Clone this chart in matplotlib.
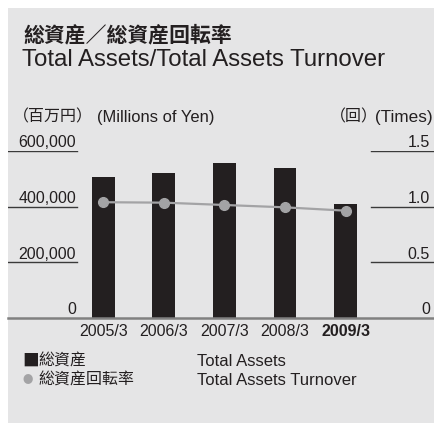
import matplotlib
matplotlib.use("Agg")
import matplotlib.pyplot as plt
from matplotlib.patches import Rectangle
from matplotlib.transforms import blended_transform_factory

JP = 'Noto Sans CJK SC'
plt.rcParams['font.family'] = ['Liberation Sans', JP, 'DejaVu Sans']

# data (millions of yen / times)
years = ['2005/3', '2006/3', '2007/3', '2008/3', '2009/3']
total_assets = [505000, 520000, 556000, 538000, 408000]
turnover = [1.04, 1.036, 1.015, 0.994, 0.964]
left_ticks = [0, 200000, 400000, 600000]
left_labels = ['0', '200,000', '400,000', '600,000']
right_ticks = [0, 0.5, 1.0, 1.5]
right_labels = ['0', '0.5', '1.0', '1.5']

W, H = 435, 423
bg = '#e5e5e6'
bar_col = '#231f20'
line_col = '#a3a3a5'
txt = '#231f20'

fig = plt.figure(figsize=(W / 100, H / 100), dpi=100)
fig.patch.set_facecolor('white')
fig.add_artist(Rectangle((8 / W, 0), 1 - 8 / W, 1 - 8 / H, transform=fig.transFigure,
                         facecolor=bg, edgecolor='none', zorder=-10))

def fx(px):
    return px / W

def fy(py):
    return 1 - py / H

# axes: left edge at px 8, right at 435, bottom y=318, top y=151
ax = fig.add_axes([fx(8), fy(318), fx(427), (318 - 151) / H])
ax.set_facecolor('none')
x = list(range(len(years)))
ax.bar(x, total_assets, width=0.38, color=bar_col, zorder=2)
ax.set_xlim(-1.578, 5.479)
ax.set_ylim(0, 600000)
for s in ax.spines.values():
    s.set_visible(False)
ax.set_yticks([])
ax.set_xticks(x)
ax.set_xticklabels(years, fontsize=11.5, color=txt)
ax.get_xticklabels()[-1].set_fontweight('bold')
ax.tick_params(axis='x', length=0, pad=4)

ax2 = ax.twinx()
ax2.set_ylim(0, 1.5)
for s in ax2.spines.values():
    s.set_visible(False)
ax2.set_yticks([])
ax2.plot(x, turnover, color=line_col, lw=1.6, marker='o', ms=7, mec=line_col, mfc=line_col, zorder=3)

# grid stubs at left and right, with labels sitting on them
tl = blended_transform_factory(ax.transAxes, ax.transData)
for v, lab in zip(left_ticks, left_labels):
    if v > 0:
        ax.axhline(v, xmin=0, xmax=(77 - 8) / 427, color='#3a3a3a', lw=1.0, zorder=1)
    ax.text((76 - 8) / 427, v + 2500, lab, transform=tl, ha='right', va='bottom',
            fontsize=11.5, color=txt)
tr = blended_transform_factory(ax2.transAxes, ax2.transData)
for v, lab in zip(right_ticks, right_labels):
    if v > 0:
        ax2.axhline(v, xmin=(371 - 8) / 427, xmax=1, color='#3a3a3a', lw=1.0, zorder=1)
    ax2.text((430 - 8) / 427, v + 0.006, lab, transform=tr, ha='right', va='bottom',
             fontsize=11.5, color=txt)
ax.axhline(0, color='#808080', lw=1.8, zorder=4, clip_on=False)

# titles
fig.text(fx(23), fy(35), '総資産／総資産回転率', fontsize=15, fontweight='bold',
         color=txt, va='center', family=[JP])
fig.text(fx(22), fy(60), 'Total Assets/Total Assets Turnover', fontsize=17.3,
         color=txt, va='center')

# unit labels
fig.text(fx(13), fy(117), '（百万円）', fontsize=11.5, color=txt, va='center', family=[JP])
fig.text(fx(97), fy(117), '(Millions of Yen)', fontsize=11.9, color=txt, va='center')
fig.text(fx(330), fy(117), '（回）', fontsize=11.5, color=txt, va='center', family=[JP])
fig.text(fx(375), fy(117), '(Times)', fontsize=12.3, color=txt, va='center')

# legend
fig.text(fx(22), fy(361), '■', fontsize=12, color=bar_col, va='center', family=[JP])
fig.text(fx(38), fy(361), '総資産', fontsize=11.5, color=txt, va='center', family=[JP])
fig.text(fx(197), fy(361), 'Total Assets', fontsize=12, color=txt, va='center')
fig.text(fx(23), fy(380), '●', fontsize=7.5, color=line_col, va='center', family=[JP])
fig.text(fx(38), fy(380), '総資産回転率', fontsize=11.5, color=txt, va='center', family=[JP])
fig.text(fx(197), fy(380), 'Total Assets Turnover', fontsize=12, color=txt, va='center')

fig.savefig('out.png', dpi=100, facecolor=fig.get_facecolor())
